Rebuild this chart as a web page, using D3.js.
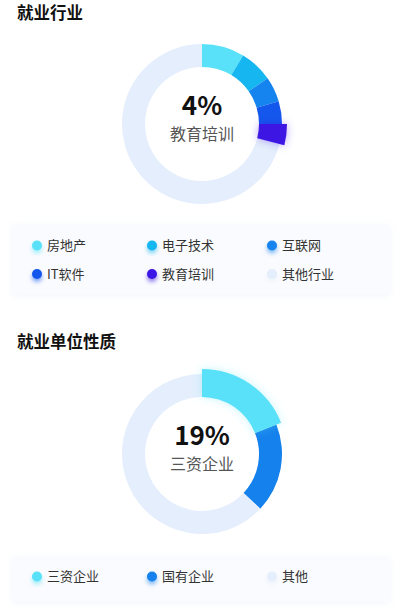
<!DOCTYPE html>
<html>
<head>
<meta charset="utf-8">
<script src="https://cdn.jsdelivr.net/npm/d3@7"></script>
<style>
  html, body { margin: 0; padding: 0; background: #fff; }
  body { width: 400px; height: 614px; overflow: hidden; font-family: "Noto Sans CJK SC", "Noto Sans", sans-serif; }
</style>
</head>
<body>
<div id="grafico"></div>
<script>
// ===== dados =====
const industryNames = ["房地产", "电子技术", "互联网", "IT软件", "教育培训", "其他行业"];
const industryValues = [8.6, 6.7, 5.1, 4.6, 4, 71];
const industryColors = ["#58e1f8", "#16b6f0", "#1584ee", "#1457ec", "#3c16e4", "#e4eefc"];

const unitNames = ["三资企业", "国有企业", "其他"];
const unitValues = [19, 18, 63];
const unitColors = ["#58e1f8", "#1581ec", "#e4eefc"];

const width = 400, height = 614;

const svg = d3.select("#grafico")
    .append("svg")
    .attr("width", width)
    .attr("height", height)
    .attr("viewBox", [0, 0, width, height]);

const defs = svg.append("defs");

// sombra suave da caixa da legenda
const boxShadow = defs.append("filter").attr("id", "box-shadow")
    .attr("x", "-10%").attr("y", "-30%").attr("width", "120%").attr("height", "160%");
boxShadow.append("feDropShadow")
    .attr("dx", 0).attr("dy", 1).attr("stdDeviation", 3)
    .attr("flood-color", "#c9d6ee").attr("flood-opacity", 0.25);

/**
 * Desenha um donut com legenda.
 */
function desenharBloco(cfg) {
    const { names, values, colors, highlight, cx, cy, titleY, legendY, legendH, rows } = cfg;
    const g = svg.append("g");

    g.append("text")
        .attr("x", 17).attr("y", titleY)
        .attr("font-size", 16.5).attr("font-weight", 700).attr("fill", "#111")
        .text(cfg.title);

    const pie = d3.pie().sort(null).value(d => d.v);
    const arcs = pie(names.map((n, i) => ({ n, v: values[i], c: colors[i], i })));

    const innerR = 57, outerR = 80, hiR = 85;
    const arc = d3.arc().innerRadius(innerR).outerRadius(d => d.data.i === highlight ? hiR : outerR);

    const glowId = "glow-" + cfg.key;
    const glow = defs.append("filter").attr("id", glowId)
        .attr("x", "-50%").attr("y", "-50%").attr("width", "200%").attr("height", "200%");
    glow.append("feDropShadow")
        .attr("dx", 0).attr("dy", 0).attr("stdDeviation", 4)
        .attr("flood-color", colors[highlight]).attr("flood-opacity", 0.35);

    const ring = g.append("g").attr("transform", `translate(${cx},${cy})`);
    ring.selectAll("path.normal")
        .data(arcs.filter(d => d.data.i !== highlight))
        .join("path")
        .attr("class", "normal")
        .attr("d", arc)
        .attr("fill", d => d.data.c);
    ring.selectAll("path.hi")
        .data(arcs.filter(d => d.data.i === highlight))
        .join("path")
        .attr("class", "hi")
        .attr("d", arc)
        .attr("fill", d => d.data.c)
        .attr("filter", `url(#${glowId})`);

    ring.append("text")
        .attr("text-anchor", "middle").attr("y", -9)
        .attr("font-size", 26).attr("font-weight", 700).attr("fill", "#111")
        .text(Math.round(values[highlight]) + "%");
    ring.append("text")
        .attr("text-anchor", "middle").attr("y", 16)
        .attr("font-size", 16).attr("fill", "#555")
        .text(names[highlight]);

    // legenda
    g.append("rect")
        .attr("x", 12).attr("y", legendY)
        .attr("width", 378).attr("height", legendH)
        .attr("rx", 4)
        .attr("fill", "#fafbfe")
        .attr("filter", "url(#box-shadow)");

    const colX = [37, 152, 272];
    const rowY = d3.scalePoint().domain(d3.range(rows)).range([legendY + 20.5, legendY + 49]);

    const item = g.selectAll("g.item")
        .data(names.map((n, i) => ({ n, c: colors[i], i })))
        .join("g")
        .attr("class", "item")
        .attr("transform", d => `translate(${colX[d.i % 3]},${rows === 1 ? legendY + legendH / 2 - 3 : rowY(Math.floor(d.i / 3))})`);

    item.append("circle")
        .attr("r", 5)
        .attr("fill", d => d.c)
        .style("filter", d => `drop-shadow(0px 3px 2px ${d3.color(d.c).copy({ opacity: 0.55 })})`);

    item.append("text")
        .attr("x", 10).attr("dy", "0.36em")
        .attr("font-size", 13).attr("fill", "#333")
        .text(d => d.n);
}

desenharBloco({
    key: "ind", title: "就业行业",
    names: industryNames, values: industryValues, colors: industryColors,
    highlight: 4, cx: 202, cy: 124, titleY: 19,
    legendY: 225, legendH: 70, rows: 2
});

desenharBloco({
    key: "uni", title: "就业单位性质",
    names: unitNames, values: unitValues, colors: unitColors,
    highlight: 0, cx: 202, cy: 454, titleY: 348,
    legendY: 557, legendH: 45, rows: 1
});
</script>
</body>
</html>
